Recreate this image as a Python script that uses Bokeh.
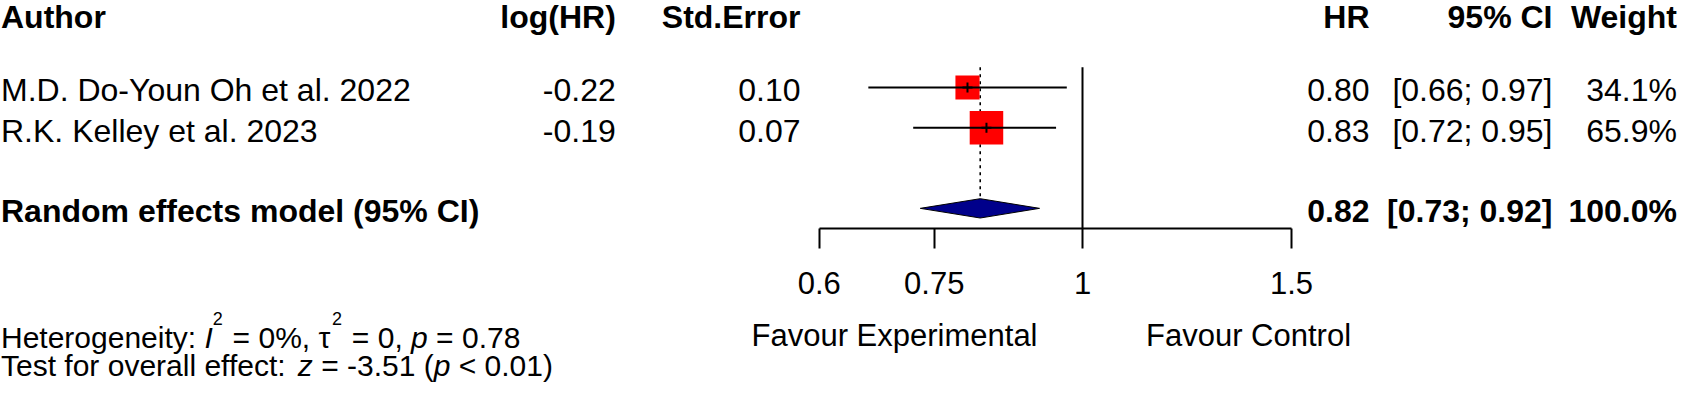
import math
from bokeh.plotting import figure
from bokeh.layouts import column
from bokeh.models import Range1d, LinearScale, FixedTicker, CustomJSTickFormatter, Label
from bokeh.core.properties import value
from bokeh.embed import file_html
from bokeh.resources import INLINE

# ---------------- data ----------------
headers = ["Author", "log(HR)", "Std.Error", "HR", "95% CI", "Weight"]
authors = ["M.D. Do-Youn Oh et al. 2022", "R.K. Kelley et al. 2023"]
log_hr = [-0.22, -0.19]
std_err = [0.10, 0.07]
hr = [0.80, 0.83]
ci_lo = [0.66, 0.72]
ci_hi = [0.97, 0.95]
weight = [34.1, 65.9]

re_label = "Random effects model (95% CI)"
re_hr = 0.82
re_lo = 0.73
re_hi = 0.92
re_weight = 100.0

het_i2 = 0
het_tau2 = 0
het_p = 0.78
overall_z = -3.51
overall_p = "< 0.01"

ticks = [0.6, 0.75, 1, 1.5]
tick_labels = ["0.6", "0.75", "1", "1.5"]
label_left = "Favour Experimental"
label_right = "Favour Control"

# ---------------- layout ----------------
W, H = 1677, 382
H_TOP = 307            # top figure: table + forest + axis
H_BOT = H - H_TOP      # bottom figure: favour labels + statistics
ROW_PX = 40.3
FRAME_H = 228
NULL_PX = 1082.0       # figure px of HR = 1
PX_PER_LOG = 515.4
FONT = "Liberation Sans"

x_start = math.exp((0 - NULL_PX) / PX_PER_LOG)
x_end = math.exp((W - NULL_PX) / PX_PER_LOG)

p = figure(width=W, height=H_TOP, output_backend="svg", toolbar_location=None,
           x_axis_type="log", x_range=Range1d(x_start, x_end),
           y_range=Range1d(5.5, 5.5 - FRAME_H / ROW_PX),
           y_axis_location=None,
           min_border_left=0, min_border_right=0, min_border_top=0,
           min_border_bottom=H_TOP - FRAME_H,
           background_fill_color="white", border_fill_color="white",
           outline_line_color=None)
p.extra_x_ranges = {"px": Range1d(0, W)}
p.extra_x_scales = {"px": LinearScale()}
p.grid.visible = False

ax = p.xaxis[0]
ax.ticker = FixedTicker(ticks=ticks, minor_ticks=[])
ax.formatter = CustomJSTickFormatter(
    args=dict(tvals=ticks, tlabs=tick_labels),
    code="const i = tvals.findIndex(t => Math.abs(t - tick) < 1e-9); return i >= 0 ? tlabs[i] : '';")
ax.bounds = (ticks[0], ticks[-1])
ax.axis_line_width = 2
ax.axis_line_color = "black"
ax.major_tick_line_width = 2
ax.major_tick_line_color = "black"
ax.major_tick_out = 20
ax.major_tick_in = 0
ax.minor_tick_out = 0
ax.minor_tick_in = 0
ax.major_label_text_font = FONT
ax.major_label_text_font_size = "31px"
ax.major_label_text_color = "black"
ax.major_label_standoff = 23

rows = [2, 3]
re_row = 5
hdr_row = 0
TXT_SHIFT = 3.0 / ROW_PX

# ---------------- forest marks ----------------
p.segment(x0=[1], x1=[1], y0=[1.5], y1=[5.5], line_color="black", line_width=2)
dh = 9.65 / ROW_PX
p.segment(x0=[re_hr], x1=[re_hr], y0=[1.5], y1=[re_row - dh], line_color="black",
          line_width=1.6, line_dash="3 4")
sizes = [4.13 * math.sqrt(w) for w in weight]
p.scatter(x=hr, y=rows, marker="square", size=sizes, fill_color="#FF0000",
          line_color=None)
p.segment(x0=ci_lo, x1=ci_hi, y0=rows, y1=rows, line_color="black", line_width=2)
p.scatter(x=hr, y=rows, marker="cross", size=10, line_color="black", line_width=2)
p.patch(x=[re_lo, re_hr, re_hi, re_hr], y=[re_row, re_row - dh, re_row, re_row + dh],
        fill_color="#00008B", line_color="black", line_width=1)

# ---------------- table text ----------------
def txt(xs, ys, texts, align, bold=False, size="32px"):
    p.text(x=xs, y=ys, text=texts, x_range_name="px", text_align=align,
           text_baseline="middle", text_font=value(FONT),
           text_font_style="bold" if bold else "normal",
           text_font_size=size, text_color="black")

col_x = [0.5, 615.3, 800.0, 1369.0, 1552.0, 1676.5]
col_align = ["left", "right", "right", "right", "right", "right"]
hy = hdr_row + 10.5 / ROW_PX
for h, x, a in zip(headers, col_x, col_align):
    txt([x], [hy], [h], a, bold=True)

ys = [r + TXT_SHIFT for r in rows]
txt([col_x[0]] * 2, ys, authors, "left")
txt([col_x[1]] * 2, ys, [f"{v:.2f}" for v in log_hr], "right")
txt([col_x[2]] * 2, ys, [f"{v:.2f}" for v in std_err], "right")
txt([col_x[3]] * 2, ys, [f"{v:.2f}" for v in hr], "right")
txt([col_x[4]] * 2, ys, [f"[{a:.2f}; {b:.2f}]" for a, b in zip(ci_lo, ci_hi)], "right")
txt([col_x[5]] * 2, ys, [f"{w:.1f}%" for w in weight], "right")

ry = re_row + TXT_SHIFT
txt([col_x[0]], [ry], [re_label], "left", bold=True)
txt([col_x[3]], [ry], [f"{re_hr:.2f}"], "right", bold=True)
txt([col_x[4]], [ry], [f"[{re_lo:.2f}; {re_hi:.2f}]"], "right", bold=True)
txt([col_x[5]], [ry], [f"{re_weight:.1f}%"], "right", bold=True)

# ---------------- bottom figure ----------------
TOP_PAGE = 8 + H_TOP
q = figure(width=W, height=H_BOT, output_backend="svg", toolbar_location=None,
           x_range=Range1d(0, W), y_range=Range1d(TOP_PAGE + H_BOT, TOP_PAGE),
           x_axis_location=None, y_axis_location=None,
           min_border_left=0, min_border_right=0, min_border_top=0,
           min_border_bottom=0, background_fill_color="white",
           border_fill_color="white", outline_line_color=None)
q.grid.visible = False

for t, x in [(label_left, 894.0), (label_right, 1248.0)]:
    q.add_layout(Label(x=x, y=343, text=t, text_font=FONT,
                       text_font_size="31px", text_align="center",
                       text_baseline="middle", text_color="black"))

AW = {' ': 278, '%': 889, '(': 333, ')': 333, ',': 278, '-': 333, '.': 278,
      ':': 278, '<': 584, '=': 584, 'H': 722, 'I': 278, 'T': 611, 'a': 556,
      'c': 500, 'e': 556, 'f': 278, 'g': 556, 'h': 556, 'i': 222, 'l': 222,
      'n': 556, 'o': 556, 'p': 556, 'r': 333, 's': 500, 't': 278, 'v': 500,
      'y': 500, 'z': 500, '\u03c4': 450}
for d in "0123456789":
    AW[d] = 556

def width(s, fs):
    return sum(AW.get(c, 556) for c in s) / 1000.0 * fs

FS_FOOT = 30.0
FS_SUP = 18.0
SUP_RISE = 19.0

def footer(pieces, base_y):
    x = 0.5
    for s, style, sup in pieces:
        fs = FS_SUP if sup else FS_FOOT
        yy = base_y - SUP_RISE if sup else base_y
        lead = len(s) - len(s.lstrip(" "))
        shown = s.strip(" ")
        if shown:
            q.add_layout(Label(x=x + width(" " * lead, fs), y=yy, text=shown,
                               text_font=FONT, text_font_size=f"{fs}px",
                               text_font_style=style, text_align="left",
                               text_baseline="middle", text_color="black"))
        x += width(s, fs) + (1.5 if sup else 0)

het_pieces = [("Heterogeneity: ", "normal", False), ("I", "italic", False),
              ("2", "normal", True), (f" = {het_i2}%, ", "normal", False),
              ("\u03c4", "normal", False), ("2", "normal", True),
              (f" = {het_tau2}, ", "normal", False), ("p", "italic", False),
              (f" = {het_p:.2f}", "normal", False)]
test_pieces = [("Test for overall effect: ", "normal", False), ("z", "italic", False),
               (f" = {overall_z:.2f} (", "normal", False), ("p", "italic", False),
               (f" {overall_p})", "normal", False)]
footer(het_pieces, 344.5)
footer(test_pieces, 372.5)

layout = column(p, q, spacing=0)
open("out.html", "w").write(file_html(layout, INLINE))
